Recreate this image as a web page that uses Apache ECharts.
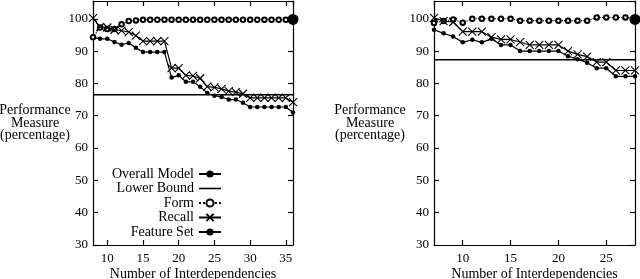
<!DOCTYPE html>
<html><head><meta charset="utf-8">
<script src="https://cdn.jsdelivr.net/npm/echarts@6/dist/echarts.min.js"></script>
<style>html,body{margin:0;padding:0;background:#fff}#c{width:640px;height:279px}</style>
</head><body><div id="c"></div>
<script>
// Left panel: x = 8..36
const xLeft = [8,9,10,11,12,13,14,15,16,17,18,19,20,21,22,23,24,25,26,27,28,29,30,31,32,33,34,35,36];
const overallLeft = [94.3,93.8,93.8,92.8,92.0,92.5,91.0,89.7,89.7,89.7,89.7,81.8,82.5,80.5,80.5,79.0,77.0,76.2,75.8,75.0,75.0,74.0,72.7,72.7,72.7,72.7,72.7,72.7,71.0];
const recallLeft = [100.2,97.5,97.3,96.6,96.3,95.9,94.8,93.1,93.1,93.1,93.1,84.7,84.7,82.5,82.3,81.6,79.0,78.8,78.3,77.6,77.3,76.8,75.5,75.5,75.5,75.5,75.5,75.5,74.2];
const formLeft = [94.3,97.3,96.8,96.8,98.3,99.3,99.5,99.7,99.7,99.7,99.7,99.7,99.7,99.7,99.7,99.7,99.7,99.7,99.7,99.7,99.7,99.7,99.7,99.7,99.7,99.7,99.7,99.7,99.7];
const lowerBoundLeft = 76.5;
const featureLeft = [36, 99.8];
// Right panel: x = 7..28
const xRight = [7,8,9,10,11,12,13,14,15,16,17,18,19,20,21,22,23,24,25,26,27,28];
const overallRight = [96.6,95.5,94.5,92.7,93.5,92.7,93.8,91.9,91.9,90.0,90.0,90.0,90.0,90.0,88.4,87.5,86.4,84.7,84.7,82.2,82.2,82.2];
const recallRight = [100.3,99.3,99.0,96.0,96.0,96.0,94.3,93.6,93.6,92.8,91.9,91.9,91.9,91.9,90.0,89.0,88.3,86.6,86.6,84.0,84.0,84.0];
const formRight = [98.7,99.3,99.8,98.8,100.0,100.0,100.0,100.0,100.0,99.4,99.4,99.4,99.4,99.4,99.4,99.4,99.4,100.4,100.4,100.4,100.4,100.2];
const lowerBoundRight = 87.3;
const featureRight = [28, 99.8];
const xRangeLeft = [8, 36];
const xRangeRight = [7, 28];
const yRange = [30, 105.5];
const xName = 'Number of Interdependencies';
const yName = 'Performance\nMeasure\n(percentage)';
const legendNames = ['Overall Model', 'Lower Bound', 'Form', 'Recall', 'Feature Set'];

const FONT = 'Liberation Serif';
const pair = (xs, ys) => xs.map((x, i) => [x, ys[i]]);
const X_SYMBOL = 'path://M0,0L10,10M10,0L0,10';

function axesFor(xr, nameGap) {
  const common = {axisLine: {show: true, lineStyle: {color: '#000', width: 1.2}}, splitLine: {show: false}, nameMoveOverlap: false};
  const tick = {inside: true, length: 5, lineStyle: {color: '#000', width: 1.2}};
  return {
    x: [
      Object.assign({}, common, {type: 'value', position: 'bottom', min: xr[0], max: xr[1], axisTick: tick,
        axisLabel: {color: '#000', fontFamily: FONT, fontSize: 13, margin: 7, showMinLabel: false, showMaxLabel: false},
        name: xName, nameLocation: 'middle', nameGap: 22,
        nameTextStyle: {color: '#000', fontFamily: FONT, fontSize: 14}}),
      Object.assign({}, common, {type: 'value', position: 'top', min: xr[0], max: xr[1], axisTick: tick, axisLabel: {show: false}})
    ],
    y: [
      Object.assign({}, common, {type: 'value', position: 'left', min: yRange[0], max: yRange[1], interval: 10, axisTick: tick,
        axisLabel: {color: '#000', fontFamily: FONT, fontSize: 13, margin: 5, showMaxLabel: false},
        name: yName, nameLocation: 'middle', nameRotate: 0, nameGap: nameGap,
        nameTextStyle: {color: '#000', fontFamily: FONT, fontSize: 14, lineHeight: 12.5, align: 'center', verticalAlign: 'middle', padding: [7, 0, 0, 0]}}),
      Object.assign({}, common, {type: 'value', position: 'right', min: yRange[0], max: yRange[1], interval: 10, axisTick: tick, axisLabel: {show: false}})
    ]
  };
}
const aL = axesFor(xRangeLeft, 58);
const aR = axesFor(xRangeRight, 64);

function seriesFor(xi, yi, xs, overall, recall, form, lb, xr, feat) {
  return [
    {name: 'Overall Model', type: 'line', xAxisIndex: xi, yAxisIndex: yi, data: pair(xs, overall),
      symbol: 'circle', symbolSize: 4.5, itemStyle: {color: '#000'}, lineStyle: {color: '#000', width: 1.2}},
    {name: 'Lower Bound', type: 'line', xAxisIndex: xi, yAxisIndex: yi, data: [[xr[0], lb], [xr[1], lb]],
      symbol: 'circle', showSymbol: false, itemStyle: {color: '#000'}, lineStyle: {color: '#000', width: 1.4}},
    {name: 'Form', type: 'line', xAxisIndex: xi, yAxisIndex: yi, data: pair(xs, form),
      symbol: 'emptyCircle', symbolSize: 4.5, itemStyle: {color: '#000', borderColor: '#000', borderWidth: 1},
      lineStyle: {color: '#000', width: 1.2, type: 'dotted'}},
    {name: 'Recall', type: 'line', xAxisIndex: xi, yAxisIndex: yi, data: pair(xs, recall),
      symbol: X_SYMBOL, symbolSize: 8, itemStyle: {color: '#000', borderColor: '#000', borderWidth: 1.1},
      lineStyle: {color: '#000', width: 1.2}},
    {name: 'Feature Set', type: 'line', xAxisIndex: xi, yAxisIndex: yi, data: [feat],
      symbol: 'circle', symbolSize: 11, itemStyle: {color: '#000'}, lineStyle: {color: '#000', width: 1.2}}
  ];
}

const chart = echarts.init(document.getElementById('c'), null, {renderer: 'canvas'});
chart.setOption({
  backgroundColor: '#fff',
  animation: false,
  grid: [
    {left: 93, top: 1, width: 200, height: 244, outerBoundsMode: 'none', containLabel: false},
    {left: 434, top: 1, width: 201, height: 244, outerBoundsMode: 'none', containLabel: false}
  ],
  xAxis: [aL.x[0], aL.x[1], aR.x[0], aR.x[1]].map((a, i) => Object.assign(a, {gridIndex: i < 2 ? 0 : 1})),
  yAxis: [aL.y[0], aL.y[1], aR.y[0], aR.y[1]].map((a, i) => Object.assign(a, {gridIndex: i < 2 ? 0 : 1})),
  legend: {
    orient: 'vertical', align: 'right', right: 413, top: 162, itemGap: 0.5,
    itemWidth: 22, itemHeight: 9,
    textStyle: {color: '#000', fontFamily: FONT, fontSize: 14},
    data: legendNames.map(n => n === 'Lower Bound'
      ? {name: n, lineStyle: {color: '#000', width: 1.6, opacity: 1}, itemStyle: {color: 'rgba(0,0,0,0)', borderWidth: 0}}
      : {name: n})
  },
  series: [].concat(
    seriesFor(0, 0, xLeft, overallLeft, recallLeft, formLeft, lowerBoundLeft, xRangeLeft, featureLeft),
    seriesFor(2, 2, xRight, overallRight, recallRight, formRight, lowerBoundRight, xRangeRight, featureRight)
  )
});
</script></body></html>
